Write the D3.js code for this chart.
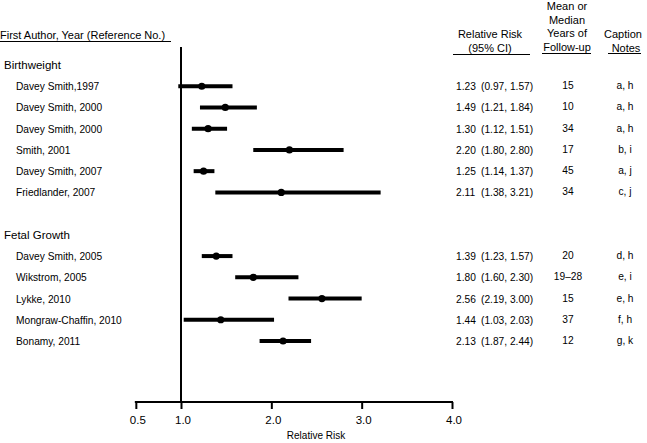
<!DOCTYPE html>
<html><head><meta charset="utf-8">
<script src="https://cdn.jsdelivr.net/npm/d3@7"></script>
<style>body{margin:0;background:#fff}svg{display:block;font-family:"Liberation Sans",Arial,sans-serif}</style>
</head><body><svg id="c" width="647" height="443"></svg>
<script>
const groups = ["Birthweight", "Fetal Growth"];
const studies = ["Davey Smith,1997","Davey Smith, 2000","Davey Smith, 2000","Smith, 2001","Davey Smith, 2007","Friedlander, 2007",
  "Davey Smith, 2005","Wikstrom, 2005","Lykke, 2010","Mongraw-Chaffin, 2010","Bonamy, 2011"];
const studyGroup = [0,0,0,0,0,0,1,1,1,1,1];
const rr    = [1.23,1.49,1.30,2.20,1.25,2.11,1.39,1.80,2.56,1.44,2.13];
const lower = [0.97,1.21,1.12,1.80,1.14,1.38,1.23,1.60,2.19,1.03,1.87];
const upper = [1.57,1.84,1.51,2.80,1.37,3.21,1.57,2.30,3.00,2.03,2.44];
const years = ["15","10","34","17","45","34","20","19\u201328","15","37","12"];
const notes = ["a, h","a, h","a, h","b, i","a, j","c, j","d, h","e, i","e, h","f, h","g, k"];
const tickValues = [0.5,1.0,2.0,3.0,4.0];

const svg = d3.select("#c");
const rows = [];
groups.forEach((g,gi)=>{
  if(gi>0) rows.push({type:"blank", id:"blank"+gi});
  rows.push({type:"group", id:"g"+gi, label:g});
  studies.forEach((s,i)=>{ if(studyGroup[i]===gi) rows.push({type:"study", id:"s"+i, i}); });
});
const y = d3.scalePoint().domain(rows.map(r=>r.id)).range([65,341]);
const x = d3.scaleLinear().domain([1,4]).range([181,452]);

// headers
const hdr = svg.append("g").attr("font-size",11).attr("fill","#000");
hdr.append("text").attr("x",0).attr("y",39).text("First Author, Year (Reference No.)");
hdr.append("line").attr("x1",0).attr("x2",171).attr("y1",41.5).attr("y2",41.5).attr("stroke","#000");
hdr.append("text").attr("x",490).attr("y",38).attr("text-anchor","middle").text("Relative Risk");
hdr.append("text").attr("x",490).attr("y",52).attr("text-anchor","middle").text("(95% CI)");
hdr.append("line").attr("x1",453).attr("x2",530).attr("y1",54.5).attr("y2",54.5).attr("stroke","#000");
["Mean or","Median","Years of","Follow-up"].forEach((t,k)=>{
  hdr.append("text").attr("x",567).attr("y",10+k*13.7).attr("text-anchor","middle").text(t);
});
hdr.append("line").attr("x1",542).attr("x2",591).attr("y1",53.5).attr("y2",53.5).attr("stroke","#000");
hdr.append("text").attr("x",623).attr("y",38).attr("text-anchor","middle").text("Caption");
hdr.append("text").attr("x",626).attr("y",52).attr("text-anchor","middle").text("Notes");
hdr.append("line").attr("x1",608).attr("x2",641).attr("y1",53.5).attr("y2",53.5).attr("stroke","#000");

// group labels
svg.append("g").selectAll("text").data(rows.filter(r=>r.type==="group")).join("text")
  .attr("x",4).attr("y",r=>y(r.id)+4).attr("font-size",11.5).text(r=>r.label);

const sRows = rows.filter(r=>r.type==="study");
const tg = svg.append("g").attr("font-size",10.2);
tg.selectAll("text.name").data(sRows).join("text").attr("class","name")
  .attr("x",16).attr("y",r=>y(r.id)+4).text(r=>studies[r.i]);
tg.selectAll("text.rr").data(sRows).join("text").attr("class","rr")
  .attr("x",456).attr("y",r=>y(r.id)+4).text(r=>rr[r.i].toFixed(2));
tg.selectAll("text.ci").data(sRows).join("text").attr("class","ci")
  .attr("x",481).attr("y",r=>y(r.id)+4).text(r=>`(${lower[r.i].toFixed(2)}, ${upper[r.i].toFixed(2)})`);
tg.selectAll("text.yr").data(sRows).join("text").attr("class","yr")
  .attr("x",568).attr("y",r=>y(r.id)+3).attr("text-anchor","middle").text(r=>years[r.i]);
tg.selectAll("text.nt").data(sRows).join("text").attr("class","nt")
  .attr("x",625).attr("y",r=>y(r.id)+3).attr("text-anchor","middle").text(r=>notes[r.i]);

// reference line
svg.append("line").attr("x1",x(1)).attr("x2",x(1)).attr("y1",47).attr("y2",403)
  .attr("stroke","#000").attr("stroke-width",2);

// CIs and points
const mk = svg.append("g");
mk.selectAll("line").data(sRows).join("line")
  .attr("x1",r=>x(lower[r.i])).attr("x2",r=>x(upper[r.i]))
  .attr("y1",r=>y(r.id)).attr("y2",r=>y(r.id)).attr("stroke","#000").attr("stroke-width",4);
mk.selectAll("circle").data(sRows).join("circle")
  .attr("cx",r=>x(rr[r.i])).attr("cy",r=>y(r.id)).attr("r",3.6).attr("fill","#000");

// axis
const ax = svg.append("g").attr("transform","translate(0,402)")
  .call(d3.axisBottom(x).tickValues(tickValues).tickFormat(d3.format(".1f")).tickSize(7).tickPadding(7).tickSizeOuter(0));
ax.select(".domain").remove();
ax.append("line").attr("x1",x(0.5)-1).attr("x2",x(4)+1).attr("y1",0).attr("y2",0).attr("stroke","#000").attr("stroke-width",2);
ax.selectAll(".tick line").attr("stroke","#000").attr("stroke-width",2);
ax.selectAll(".tick text").attr("font-family","Liberation Sans, Arial, sans-serif").attr("font-size",11.5).attr("fill","#000").attr("dx","1.5");
svg.append("text").attr("x",316).attr("y",439).attr("text-anchor","middle").attr("font-size",10).text("Relative Risk");
</script></body></html>
